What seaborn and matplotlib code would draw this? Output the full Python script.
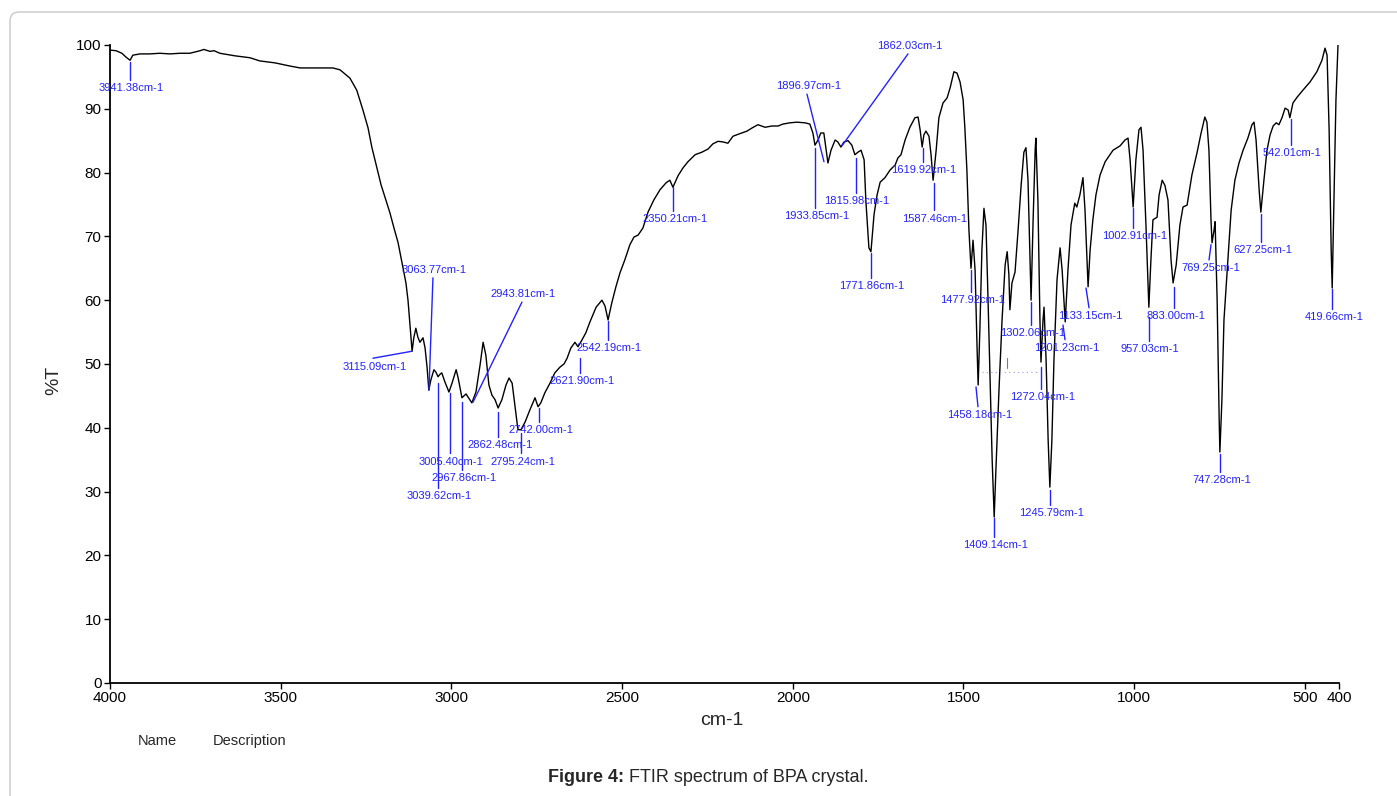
import numpy as np
import pandas as pd
import seaborn as sns
from matplotlib import pyplot as plt
from matplotlib.patches import FancyBboxPatch
from matplotlib.transforms import IdentityTransform

# FTIR spectrum of BPA crystal
wavenumber = [4000, 3982, 3965, 3953, 3941, 3933, 3912, 3883, 3854, 3824, 3795, 3766, 3736, 3725,
              3707, 3695, 3678, 3634, 3590, 3561, 3517, 3473, 3443, 3385, 3347, 3326, 3297, 3277,
              3259, 3244, 3233, 3218, 3206, 3192, 3180, 3168, 3156, 3142, 3133, 3127, 3121, 3115,
              3110, 3104, 3098, 3092, 3083, 3077, 3071, 3066, 3060, 3051, 3045, 3039, 3033, 3028,
              3019, 3007, 2998, 2986, 2980, 2969, 2957, 2951, 2940, 2928, 2916, 2907, 2899, 2890,
              2881, 2872, 2863, 2852, 2840, 2831, 2822, 2814, 2805, 2796, 2784, 2770, 2755, 2746,
              2738, 2726, 2711, 2697, 2682, 2670, 2661, 2650, 2638, 2629, 2617, 2606, 2594, 2576,
              2559, 2550, 2541, 2530, 2518, 2506, 2492, 2477, 2465, 2453, 2439, 2424, 2407, 2389,
              2371, 2360, 2351, 2336, 2322, 2307, 2286, 2266, 2248, 2234, 2219, 2204, 2190, 2175,
              2155, 2134, 2119, 2102, 2081, 2061, 2043, 2029, 2008, 1988, 1964, 1950, 1941, 1935,
              1926, 1918, 1909, 1903, 1897, 1888, 1876, 1868, 1859, 1850, 1838, 1827, 1818, 1809,
              1800, 1791, 1786, 1777, 1771, 1762, 1753, 1744, 1730, 1715, 1700, 1692, 1683, 1671,
              1657, 1642, 1633, 1627, 1621, 1616, 1610, 1601, 1595, 1589, 1580, 1572, 1560, 1548,
              1539, 1528, 1519, 1510, 1501, 1496, 1490, 1484, 1478, 1472, 1466, 1460, 1457, 1452,
              1446, 1440, 1434, 1428, 1422, 1416, 1410, 1405, 1396, 1387, 1378, 1372, 1367, 1364,
              1358, 1349, 1340, 1331, 1323, 1317, 1311, 1305, 1302, 1296, 1290, 1288, 1282, 1276,
              1273, 1267, 1264, 1258, 1252, 1247, 1241, 1235, 1226, 1217, 1211, 1202, 1194, 1185,
              1174, 1168, 1159, 1150, 1144, 1135, 1129, 1121, 1112, 1100, 1085, 1062, 1041, 1027,
              1018, 1012, 1003, 995, 986, 980, 974, 965, 957, 951, 945, 933, 927, 918, 910, 901,
              892, 886, 877, 866, 857, 845, 831, 816, 804, 793, 787, 781, 775, 772, 766, 763, 757,
              751, 749, 743, 737, 728, 716, 705, 693, 681, 667, 655, 649, 643, 634, 629, 620, 611,
              602, 593, 584, 576, 567, 558, 549, 544, 535, 523, 506, 485, 465, 450, 441, 435, 429,
              423, 420, 415, 409, 403]
transmittance = [99.2, 99.1, 98.7, 98.1, 97.6, 98.4, 98.6, 98.6, 98.7, 98.6, 98.7, 98.7, 99.1, 99.3,
                 99.0, 99.1, 98.7, 98.3, 98.0, 97.5, 97.2, 96.7, 96.4, 96.4, 96.4, 96.1, 94.8, 92.9,
                 89.8, 87.0, 84.0, 80.7, 78.1, 75.7, 73.7, 71.3, 69.0, 65.2, 62.7, 60.0, 56.1, 52.0,
                 54.1, 55.6, 54.2, 53.4, 54.1, 52.5, 49.4, 45.9, 47.5, 49.1, 48.7, 48.0, 48.4, 48.6,
                 47.2, 45.6, 47.0, 49.1, 47.8, 44.7, 45.3, 44.8, 43.9, 45.6, 49.8, 53.4, 51.4, 46.7,
                 45.1, 44.4, 43.1, 44.4, 46.7, 47.8, 47.0, 43.6, 39.7, 39.7, 40.9, 42.8, 44.7, 43.3,
                 43.9, 45.5, 47.0, 48.6, 49.5, 50.0, 50.9, 52.5, 53.4, 52.7, 53.8, 54.9, 56.6, 58.9,
                 60.0, 59.1, 56.9, 59.6, 62.1, 64.3, 66.3, 68.7, 69.9, 70.2, 71.3, 73.8, 75.7, 77.3,
                 78.4, 78.8, 77.7, 79.5, 80.7, 81.7, 82.8, 83.2, 83.7, 84.5, 84.9, 84.8, 84.6, 85.7,
                 86.1, 86.5, 87.0, 87.5, 87.1, 87.3, 87.3, 87.6, 87.8, 87.9, 87.8, 87.6, 86.2, 84.3,
                 85.1, 86.2, 86.2, 83.9, 81.5, 83.5, 85.1, 84.8, 84.0, 84.8, 85.0, 84.3, 82.8, 83.2,
                 83.5, 82.0, 75.7, 68.2, 67.6, 73.4, 76.5, 78.5, 79.2, 80.4, 81.2, 82.3, 82.8, 85.1,
                 87.1, 88.6, 88.7, 86.7, 84.0, 85.9, 86.5, 85.7, 82.8, 78.8, 83.5, 88.6, 90.9, 91.7,
                 93.3, 95.8, 95.6, 94.2, 91.4, 87.1, 80.4, 71.0, 65.0, 69.4, 64.7, 52.2, 46.7, 55.3,
                 67.9, 74.4, 71.7, 60.0, 47.5, 35.0, 26.0, 33.4, 45.9, 56.9, 65.5, 67.6, 64.0, 58.5,
                 62.7, 64.4, 71.0, 78.1, 83.2, 83.9, 78.8, 66.3, 60.0, 72.6, 83.5, 85.4, 75.7, 56.9,
                 50.3, 56.9, 58.9, 50.6, 38.1, 30.7, 38.1, 50.6, 63.2, 68.2, 64.7, 56.6, 64.7, 71.8,
                 75.2, 74.6, 76.5, 79.2, 74.1, 62.1, 67.9, 72.6, 76.5, 79.6, 81.7, 83.5, 84.2, 85.1,
                 85.4, 82.0, 74.6, 82.0, 86.7, 87.1, 83.5, 71.0, 58.9, 66.3, 72.6, 73.0, 76.5, 78.8, 78.0, 75.7,
                 66.3, 62.7, 65.5, 71.8, 74.6, 74.9, 79.6, 83.1, 86.2, 88.7, 87.9, 83.5, 72.6, 69.0, 71.0, 72.3, 60.0,
                 41.2, 36.2, 44.4, 56.9, 64.3, 74.1, 78.8, 81.5, 83.5, 85.4, 87.5, 87.9, 85.1, 77.3, 73.8, 78.8, 83.5,
                 85.9, 87.3, 87.8, 87.5, 88.6, 90.1, 89.8, 88.6, 90.9, 91.8, 92.9, 94.2, 95.8, 97.6, 99.5, 98.4, 86.7,
                 67.9, 61.9, 75.7, 91.4, 100.0]

peak_wn = [3941.38, 3115.09, 3063.77, 3039.62, 3005.40, 2967.86, 2943.81, 2862.48, 2795.24,
           2742.00, 2621.90, 2542.19, 2350.21, 1933.85, 1896.97, 1862.03, 1815.98, 1771.86,
           1619.92, 1587.46, 1477.92, 1458.18, 1409.14, 1302.06, 1272.04, 1245.79, 1201.23,
           1133.15, 1002.91, 957.03, 883.00, 769.25, 747.28, 627.25, 542.01, 419.66]

# label leader lines: (x0, y0, x1, y1, side of text)
leaders = [
    (3941.38, 97.3, 3941.38, 94.5, 'below'),
    (3115.09, 52.0, 3229.6, 50.9, 'below'),
    (3065.6, 45.9, 3053.9, 63.5, 'above'),
    (3039.62, 47.0, 3039.62, 30.6, 'below'),
    (3005.40, 45.5, 3005.40, 36.0, 'below'),
    (2967.86, 44.0, 2967.86, 33.4, 'below'),
    (2936.7, 44.0, 2793.2, 59.7, 'above'),
    (2862.48, 42.5, 2862.48, 38.6, 'below'),
    (2795.24, 39.2, 2795.24, 36.0, 'below'),
    (2742.00, 43.1, 2742.00, 40.9, 'below'),
    (2621.90, 50.9, 2621.90, 48.6, 'below'),
    (2542.19, 56.7, 2542.19, 53.8, 'below'),
    (2350.21, 77.7, 2350.21, 74.0, 'below'),
    (1933.85, 83.9, 1933.85, 74.5, 'below'),
    (1908.6, 81.7, 1958.4, 92.3, 'above'),
    (1855.8, 84.2, 1662.5, 98.6, 'above'),
    (1815.98, 82.3, 1815.98, 76.8, 'below'),
    (1771.86, 67.4, 1771.86, 63.5, 'below'),
    (1619.92, 83.9, 1619.92, 81.7, 'below'),
    (1587.46, 78.4, 1587.46, 74.1, 'below'),
    (1477.92, 64.7, 1477.92, 61.3, 'below'),
    (1463.3, 46.4, 1457.5, 43.3, 'below'),
    (1409.14, 25.9, 1409.14, 22.9, 'below'),
    (1302.06, 59.7, 1302.06, 56.1, 'below'),
    (1272.04, 49.5, 1272.04, 46.1, 'below'),
    (1245.79, 30.3, 1245.79, 27.9, 'below'),
    (1208.5, 56.1, 1202.6, 53.8, 'below'),
    (1141.1, 61.9, 1132.3, 58.8, 'below'),
    (1002.91, 74.5, 1002.91, 71.3, 'below'),
    (957.03, 57.4, 957.03, 53.6, 'below'),
    (883.00, 62.1, 883.00, 58.8, 'below'),
    (774.9, 68.7, 780.8, 66.3, 'below'),
    (747.28, 35.9, 747.28, 33.1, 'below'),
    (627.25, 73.5, 627.25, 69.1, 'below'),
    (542.01, 88.4, 542.01, 84.3, 'below'),
    (419.66, 61.8, 419.66, 58.6, 'below'),
]

x_ticks = [4000, 3500, 3000, 2500, 2000, 1500, 1000, 500, 400]
y_ticks = [0, 10, 20, 30, 40, 50, 60, 70, 80, 90, 100]

sns.set_style('ticks')
plt.rcParams['font.family'] = ['Liberation Sans', 'DejaVu Sans']

df = pd.DataFrame({'cm-1': wavenumber, '%T': transmittance})

fig = plt.figure(figsize=(13.97, 7.96), dpi=100)
ax = fig.add_axes([0.0787, 0.142, 0.8798, 0.8015])
sns.lineplot(data=df, x='cm-1', y='%T', sort=False, color='black', linewidth=1.0, ax=ax)

blue = '#2222ff'
for wn, (x0, y0, x1, y1, side) in zip(peak_wn, leaders):
    ax.plot([x0, x1], [y0, y1], color=blue, linewidth=1.0)
    dy = -6 if side == 'below' else 6
    ax.annotate(f'{wn:.2f}cm-1', xy=(x1, y1), xytext=(1, dy), textcoords='offset points',
                ha='center', va='center', fontsize=8, color=blue)

# faint dotted guide near 1458-1272
ax.plot([1446, 1285], [48.7, 48.7], color='#9a9aff', linewidth=0.8, linestyle=(0, (1, 3)))
ax.plot([1372.5, 1372.5], [50.9, 49.4], color='#6a6aff', linewidth=0.8)

ax.set_xlim(4000, 400)
ax.set_ylim(0, 100)
ax.set_xticks(x_ticks)
ax.set_yticks(y_ticks)
ax.tick_params(axis='both', direction='out', length=4, width=1, colors='black', labelsize=11, pad=2)
sns.despine(ax=ax)
for s in ['left', 'bottom']:
    ax.spines[s].set_linewidth(1.3)
    ax.spines[s].set_color('black')

ax.set_xlabel('cm-1', fontsize=14)
ax.set_ylabel('%T', fontsize=14)
ax.xaxis.set_label_coords(0.498, -0.046)
ax.yaxis.set_label_coords(-0.039, 0.475)

fig.text(157 / 1397, 1 - 741 / 796, 'Name', fontsize=10.5, ha='center', va='center')
fig.text(250 / 1397, 1 - 741 / 796, 'Description', fontsize=10.5, ha='center', va='center')

fig.text(624 / 1397, 1 - 778 / 796, 'Figure 4:', fontsize=13, fontweight='bold', ha='right', va='center')
fig.text(624 / 1397, 1 - 778 / 796, ' FTIR spectrum of BPA crystal.', fontsize=13, ha='left', va='center')

frame = FancyBboxPatch((10, -20), 1400, 804, boxstyle='round,pad=0,rounding_size=9',
                       transform=IdentityTransform(), facecolor='none', edgecolor='#c8c8c8', linewidth=1.0)
fig.add_artist(frame)

fig.savefig('out.png', dpi=100)
